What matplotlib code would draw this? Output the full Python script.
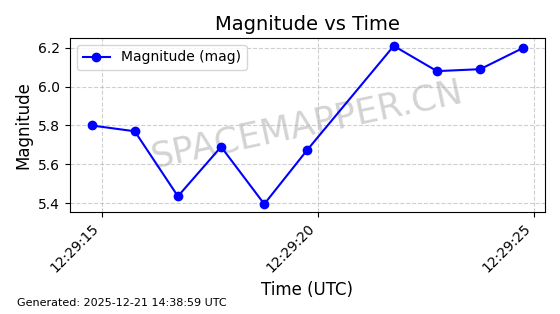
import matplotlib
matplotlib.use("Agg")
import matplotlib.pyplot as plt
import matplotlib.dates as mdates
import pandas as pd

times = ["2025-12-21 12:29:14.76", "2025-12-21 12:29:15.76", "2025-12-21 12:29:16.76",
         "2025-12-21 12:29:17.76", "2025-12-21 12:29:18.76", "2025-12-21 12:29:19.76",
         "2025-12-21 12:29:21.76", "2025-12-21 12:29:22.76", "2025-12-21 12:29:23.76",
         "2025-12-21 12:29:24.76"]
magnitude = [5.80, 5.77, 5.435, 5.69, 5.395, 5.675, 6.21, 6.08, 6.09, 6.20]

t = pd.to_datetime(times)

fig = plt.figure(figsize=(5.6, 3.14), dpi=100)
ax = fig.add_axes([0.125, 0.325, 0.848, 0.554])
ax.plot(t, magnitude, color="blue", marker="o", markersize=6, linewidth=1.5,
        label="Magnitude (mag)", zorder=3)
ax.set_title("Magnitude vs Time", fontsize=14)
ax.set_xlabel("Time (UTC)", fontsize=12)
ax.set_ylabel("Magnitude", fontsize=12)
ax.grid(True, linestyle="--", alpha=0.6)
ax.legend(loc="upper left", fontsize=10)
ax.xaxis.set_major_locator(mdates.SecondLocator(bysecond=range(0, 60, 5)))
ax.xaxis.set_major_formatter(mdates.DateFormatter("%H:%M:%S"))
plt.setp(ax.get_xticklabels(), rotation=45, ha="right")
ax.text(0.5, 0.5, "SPACEMAPPER.CN", transform=ax.transAxes, fontsize=25.5,
        color="gray", alpha=0.35, rotation=12, ha="center", va="center", zorder=1)
fig.text(0.03, 0.025, "Generated: 2025-12-21 14:38:59 UTC", fontsize=8)
fig.savefig("out.png", dpi=100)
